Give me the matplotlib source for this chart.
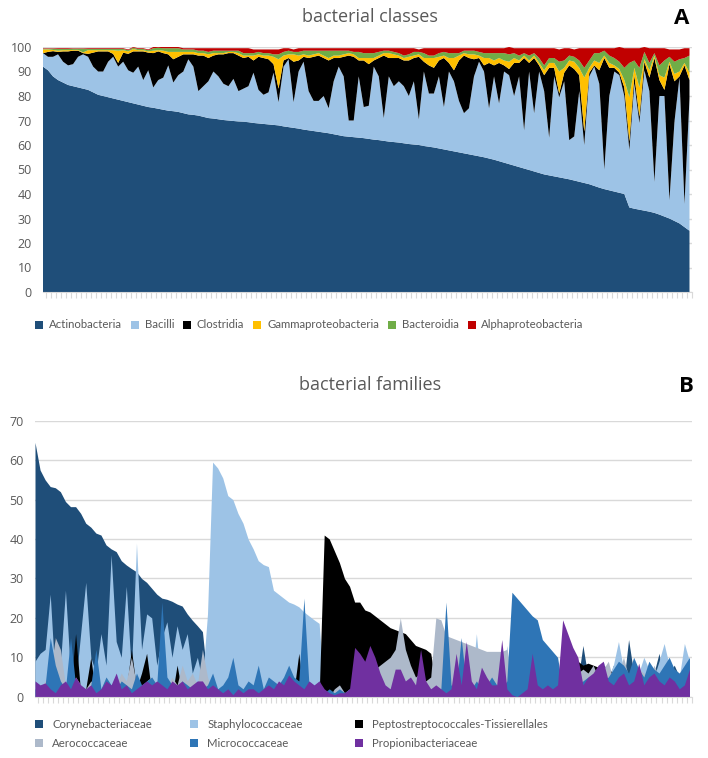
import numpy as np
import matplotlib
matplotlib.use("Agg")
import matplotlib.pyplot as plt
from matplotlib.patches import Patch

plt.rcParams["font.family"] = ["Open Sans", "DejaVu Sans"]
LEG_FONT = {"family": ["Lato", "DejaVu Sans"], "size": 8.2}

# ---- panel A: bacterial classes (relative abundance, %) ----
CLASSES = ["Actinobacteria", "Bacilli", "Clostridia", "Gammaproteobacteria",
           "Bacteroidia", "Alphaproteobacteria"]
CLASS_COLORS = ["#1f4e79", "#9dc3e6", "#000000", "#ffc000", "#70ad47", "#c00000"]

actino = [92, 90.5, 88, 86.5, 85.5, 84.5, 84, 83.5, 83, 82.5,
          81.5, 80.5, 80, 79.5, 79, 78.5, 78, 77.5, 77, 76.5,
          76, 75.5, 75.2, 74.8, 74.4, 74, 73.8, 73.5, 73, 72.5,
          72.3, 72, 71.5, 71, 70.8, 70.5, 70.2, 70, 69.8, 69.6,
          69.5, 69.3, 69, 68.8, 68.6, 68.4, 68.2, 68, 67.6, 67.3,
          67, 66.7, 66.3, 66, 65.7, 65.4, 65.1, 64.8, 64.4, 64,
          63.6, 63.4, 63.2, 63, 62.8, 62.5, 62.2, 62, 61.7, 61.4,
          61.2, 61, 60.7, 60.4, 60.2, 60, 59.6, 59.3, 59, 58.6,
          58.2, 57.8, 57.4, 57, 56.6, 56.2, 55.8, 55.4, 55, 54.5,
          54, 53.4, 52.8, 52.2, 51.6, 51, 50.4, 49.8, 49.2, 48.6,
          48, 47.6, 47.2, 46.8, 46.4, 46, 45.5, 45, 44.5, 44,
          43.3, 42.6, 42, 41.5, 41, 40.5, 40, 34.5, 34, 33.6,
          33.2, 32.8, 32.3, 31.6, 30.8, 30, 29, 28, 26.5, 25]
bacilli = [5.5, 5.5, 8, 10.5, 8.5, 8, 9, 12.5, 14, 13.5,
           10.5, 9.5, 10, 14.5, 17, 13.5, 16, 13, 12.5, 15.5,
           10.5, 15, 8.3, 11.7, 13.1, 18.5, 11.7, 15, 17, 22.5,
           19.7, 10, 12.5, 15, 19.2, 17.5, 14.8, 14, 17.2, 12.4,
           13.5, 14.7, 20.5, 13.7, 11.9, 13.1, 21.3, 9.5, 24.4, 27.7,
           10.5, 23.3, 27.7, 16, 12.3, 12.6, 14.9, 10.2, 21.6, 28,
           24.4, 6.6, 6.8, 25, 12.7, 13.5, 29.8, 26, 9.3, 26.6,
           22.8, 25, 23.3, 19.6, 25.8, 10.5, 30.4, 21.7, 22, 29.4,
           17.3, 32.2, 28.6, 21, 16.4, 18.8, 32.2, 38.6, 35, 20.5,
           34, 23.6, 37.2, 36.3, 28.4, 37, 15.6, 40.2, 23.8, 41.4,
           34, 15.4, 40.8, 32.7, 39.6, 16, 18, 37, 15.5, 44,
           48.7, 42.4, 8, 38.5, 49, 48, 40, 23.5, 51, 35.4,
           57.3, 49.2, 12.7, 48.4, 49.2, 7.5, 40.5, 59.5, 9.5, 54]
clostridia = [0, 2, 2.3, 1, 4.2, 5.7, 5.5, 2.5, 0.5, 1.2,
              5.7, 8.2, 8.2, 4.2, 1.2, 1.5, 3.7, 6.7, 8.7, 6.2,
              11.7, 7.2, 14, 11.7, 10, 4.5, 9.5, 7.5, 7, 2,
              5, 14.5, 12.5, 9.5, 6.5, 9, 12, 13.5, 10.5, 14.5,
              12.5, 12, 5, 13.5, 15, 13.5, 3.5, 5.5, 2.5, 0.5,
              16.5, 4.5, 2, 13.5, 18, 18.5, 15.5, 19.5, 9.5, 3.5,
              8, 26.5, 26, 6.5, 19, 17, 2.5, 7.5, 25.5, 7.5,
              11.5, 9.5, 10.5, 14.5, 9.5, 25.5, 4, 11.5, 10.5, 6.5,
              20, 3.5, 4.5, 16.5, 23.5, 20.5, 7, 1.5, 2.5, 18.5,
              4.5, 16.5, 2.5, 2.5, 13.5, 5.5, 29.5, 3.5, 22.5, 2.5,
              6.5, 28.5, 3.5, 1.5, 3.5, 30.5, 27.5, 6.5, 5.5, 1.5,
              0.5, 5.5, 45.5, 11.5, 1.5, 1, 3.5, 3.5, 3.5, 2.5,
              3.5, 5.5, 50.5, 6.5, 2.5, 55.5, 16.5, 0.5, 56.5, 7.5]
gamma = [1.5, 1, 0.5, 0.5, 0.5, 0.5, 0.3, 0.3, 0.3, 1.5,
         1, 0.5, 0.5, 0.5, 1.5, 5, 1, 1, 1, 0.5,
         0.5, 0.5, 1, 0.5, 1, 1, 3, 2, 1, 1,
         1, 1, 1, 1.5, 1, 0.5, 0.5, 0.5, 0.5, 1,
         1, 0.5, 2, 1, 1, 1.5, 3, 12, 2, 1.5,
         3, 2, 1, 1, 1, 1, 1, 1, 1, 1,
         1, 1, 1, 1, 1, 2.5, 1, 1, 1, 2,
         1.5, 1, 1, 1.5, 1, 1, 1.5, 3, 4, 1.5,
         1, 2, 5, 2, 1, 1.5, 2, 1, 3, 2,
         2, 2, 2, 3, 2, 1, 1, 1, 1, 1,
         2, 2, 2, 9, 2, 2, 3, 3, 22, 2,
         2, 3, 1, 2, 1, 1.5, 3, 18, 3, 12,
         1, 3, 1, 2, 5, 1, 3, 2, 1, 3]
bacteroidia = [0.3, 0.3, 0.5, 0.7, 0.5, 0.5, 0.5, 0.5, 1.5, 0.5,
               0.5, 0.5, 0.5, 0.5, 0.5, 0.7, 0.5, 0.5, 0.5, 0.5,
               0.5, 0.5, 1, 1, 1, 1.5, 1.5, 1.5, 1, 1,
               1, 1, 1, 1, 1, 1, 1, 0.5, 0.5, 1,
               1, 1, 1, 1, 1, 1, 1, 2, 1.5, 1.5,
               1, 1.5, 1.5, 2, 1.5, 1, 2, 3, 2, 2,
               1.5, 1, 1, 2.5, 2, 2, 2, 1.5, 1, 1,
               1, 1, 1, 1, 1.5, 1, 2, 1, 1, 1.5,
               1.5, 2, 2, 1, 1, 1.5, 1.5, 1.5, 2, 2,
               3, 2, 3, 3, 2, 2, 1, 2, 1, 2,
               2, 2, 2, 4, 3, 2, 2, 3, 4, 3,
               3, 4, 2, 3, 3, 3, 5, 14, 3, 8,
               3, 3, 1, 4, 7, 2, 5, 5, 2, 7]
alpha = [0.2, 0.2, 0.2, 0.3, 0.3, 0.3, 0.2, 0.2, 0.2, 0.3,
         0.3, 0.3, 0.3, 0.3, 0.3, 0.3, 0.3, 0.3, 0.3, 0.3,
         0.3, 0.3, 0.5, 0.3, 0.5, 0.5, 0.5, 0.5, 0.5, 0.5,
         0.5, 1, 1, 1.5, 1, 1, 1, 1, 1, 1,
         2, 2, 1.5, 1, 1.5, 1.5, 2, 2, 1.5, 1,
         1, 1.5, 1, 1, 1, 1, 1, 1, 1, 1,
         1, 1, 1.5, 1.5, 2, 2, 2, 1.5, 1, 1,
         1.5, 2, 3, 2.5, 1.5, 1, 2, 3, 3, 2,
         1.5, 2, 2, 2, 1, 1, 1, 1.5, 2, 2,
         2, 2, 2, 3, 2, 3, 2, 3, 2, 4,
         7, 4, 4, 5, 5, 3, 3, 5, 8, 5,
         2, 2, 1, 3, 4, 6, 8, 6, 5, 8,
         2, 6, 2, 7, 5, 3, 5, 4, 4, 3]

# ---- panel B: bacterial families (%), drawn overlapping ----
FAMILIES = ["Corynebacteriaceae", "Staphylococcaceae",
            "Peptostreptococcales-Tissierellales", "Aerococcaceae",
            "Micrococcaceae", "Propionibacteriaceae"]
FAMILY_COLORS = ["#1f4e79", "#9dc3e6", "#000000", "#adb9ca", "#2e75b6", "#7030a0"]

coryne = [64.5, 57.5, 55, 53.3, 53, 52, 49.5, 48.2, 48.2, 46.5,
          44, 43, 41.5, 41, 38.5, 37.5, 36.8, 34.5, 33.4, 32.5,
          31.7, 30, 29, 27.5, 26, 25, 24.7, 24.2, 23.5, 23,
          21, 19.4, 18, 16.5, 4, 2, 3, 2, 1, 2,
          3, 2, 1, 2, 2, 3, 1, 2, 1, 2,
          3, 2, 1, 2, 1, 2, 1, 2, 1, 2,
          1, 2, 1, 2, 1, 2, 3, 2, 1, 2,
          1, 2, 3, 2, 1, 2, 1, 2, 1, 2,
          3, 2, 1, 2, 1, 2, 1, 3, 2, 1,
          2, 1, 2, 1, 2, 1, 2, 1, 2, 1,
          2, 1, 2, 1, 2, 1, 2, 4, 13, 5,
          3, 7, 6, 4, 8, 5, 3, 14.5, 6, 4,
          5, 7, 6, 11, 4, 6, 8, 5, 9, 6]
staph = [9, 11, 12, 26, 4, 8, 27, 6, 3, 16,
         29, 10, 6, 16, 8, 36, 14, 10, 28, 6,
         39, 12, 21, 20, 8, 15, 19, 10, 18, 12,
         16, 6, 10, 4, 21, 59.5, 58, 55.5, 51, 50,
         46.5, 44, 40, 37.5, 34.5, 33.5, 33, 27, 26, 25,
         24, 23.5, 22.8, 21.5, 20.5, 19.5, 18.6, 2, 1, 2,
         1, 2, 1, 0.5, 1, 2, 1, 2, 1, 2,
         1, 2, 3, 2, 1, 2, 1, 2, 1, 2,
         1, 2, 2, 3, 2, 2, 2, 16, 2, 3,
         2, 3, 3, 13, 2, 1, 2, 1, 2, 1,
         2, 1, 2, 1, 2, 1, 2, 3, 6, 8,
         4, 6, 9, 5, 8, 14, 7, 5, 8, 6,
         10, 7, 5, 9, 13.5, 8, 6, 5, 13.5, 9]
pepto = [0, 1, 2, 3, 15, 3, 1, 2, 16, 1,
         2, 10, 0, 1, 0, 1, 0, 1, 2, 12,
         2, 6, 11, 1, 0, 1, 2, 0, 8, 1,
         1, 0, 1, 0, 0, 0, 1, 0, 0, 1,
         0, 1, 0, 0, 1, 0, 0, 1, 0, 0,
         0, 1, 11, 0, 1, 0, 0, 41, 40, 37,
         34, 30, 28, 24, 24, 22, 21.5, 20.5, 19.5, 18.5,
         17.5, 17, 16.5, 16, 14.5, 13, 12.5, 12, 11, 3,
         1, 0, 0, 1, 0, 0, 1, 0, 0, 0,
         0, 0, 0, 1, 0, 0, 0, 0, 0, 0,
         0, 0, 0, 0, 0, 1, 2, 9, 8, 8.5,
         8, 7.5, 8, 7, 6, 5, 6, 4, 3, 2,
         1, 3, 2, 1, 4, 2, 1, 3, 2, 1]
aero = [3, 2, 4, 6, 15, 12, 3, 2, 5, 3,
        2, 4, 3, 2, 5, 2, 3, 6, 4, 10,
        3, 2, 4, 5, 3, 6, 2, 5, 3, 8,
        4, 6, 3, 12, 5, 1, 0, 1, 0, 2,
        1, 0, 1, 2, 0, 1, 5, 1, 0, 1,
        0, 1, 0, 1, 0, 1, 0, 1, 0, 2,
        3, 1, 2, 1, 3, 4, 9, 7, 8, 9,
        10, 12, 20, 12, 8, 5, 6, 4, 5, 20,
        19.5, 15.5, 15, 14.5, 14, 13.5, 13, 12.5, 12, 11.5,
        11.5, 11.5, 11.5, 12, 3, 2, 1, 2, 1, 0,
        1, 0, 1, 2, 3, 2, 1, 6, 7, 6,
        8, 5, 7, 9, 4, 6, 10, 5, 3, 7,
        6, 4, 8, 5, 6, 4, 7, 5, 6, 3]
micro = [2, 1, 3, 15, 8, 4, 2, 15, 3, 2,
         1, 3, 12, 2, 5, 3, 2, 4, 3, 2,
         6, 3, 4, 5, 3, 24, 5, 3, 2, 4,
         3, 2, 1, 2, 3, 6, 2, 3, 5, 10,
         3, 2, 4, 3, 8, 2, 5, 4, 3, 5,
         8, 5, 4, 25, 3, 2, 4, 1, 2, 1,
         2, 1, 2, 1, 2, 1, 2, 1, 2, 1,
         2, 1, 2, 1, 2, 1, 2, 1, 2, 1,
         2, 24, 3, 2, 15, 3, 2, 4, 2, 3,
         5, 3, 2, 4, 26.5, 25, 23.5, 22, 20.5, 19.5,
         14.5, 13, 11.5, 10, 2, 1, 2, 3, 4, 5,
         3, 6, 4, 5, 7, 9, 8, 6, 10, 7,
         5, 9, 7, 6, 8, 10, 7, 6, 8, 10]
propioni = [4, 3, 3.5, 2, 1, 3, 4, 2, 5, 3,
            2, 3, 1, 2, 4, 3, 6, 2, 3, 1,
            2, 3, 4, 3, 4, 3, 2, 4, 3, 4,
            2, 3, 4, 4, 2, 3, 2, 1, 2, 0.5,
            2, 1, 2, 2, 1, 2, 3, 2, 4, 3,
            5.5, 4, 3, 2, 4, 3, 4, 2, 1, 0.5,
            1, 1, 2, 12.5, 11, 9, 13, 10, 6, 3,
            2, 7, 7, 4, 5, 3, 12, 4, 2, 3,
            2, 1, 2, 11, 3, 14, 4, 2, 7.5, 5,
            3, 3, 14.5, 2, 0.5, 0, 1, 2, 11, 3,
            2, 3, 2, 3, 19.5, 16, 12.5, 10, 3, 5,
            6, 8, 9, 4, 3, 5, 6, 3, 4, 8.5,
            3, 5, 6, 4, 3, 5, 4, 2, 3, 7]

TXT = "#595959"
GRID = "#d9d9d9"

fig = plt.figure(figsize=(7.08, 7.58), dpi=100)


def style_axis(ax, n, ymax, step):
    ax.set_xlim(0, n - 1)
    ax.set_ylim(0, ymax)
    ax.set_yticks(np.arange(0, ymax + 1, step))
    ax.yaxis.grid(True, color=GRID, linewidth=1)
    ax.set_axisbelow(True)
    for s in ["top", "right", "left"]:
        ax.spines[s].set_visible(False)
    ax.spines["bottom"].set_color(GRID)
    ax.tick_params(axis="y", length=0, labelsize=9, labelcolor=TXT, pad=8)
    ax.set_xticks(np.arange(n) + 0.5)
    ax.set_xticklabels([])
    ax.tick_params(axis="x", length=4, color=GRID, width=0.8)


# panel A
axA = fig.add_axes([43 / 708, 1 - 292 / 758, 649 / 708, 245 / 758])
xa = np.arange(len(actino))
axA.stackplot(xa, actino, bacilli, clostridia, gamma, bacteroidia, alpha,
              colors=CLASS_COLORS, linewidth=0)
style_axis(axA, len(actino), 100, 10)
fig.text(370 / 708, 1 - 17 / 758, "bacterial classes", ha="center", va="center",
         fontsize=13, color=TXT)
fig.text(682 / 708, 1 - 18 / 758, "A", ha="center", va="center",
         fontsize=16, fontweight="bold", color="black")
handlesA = [Patch(facecolor=c, edgecolor="none", label=l)
            for c, l in zip(CLASS_COLORS, CLASSES)]
fig.legend(handles=handlesA, loc="center left", ncol=6, frameon=False,
           bbox_to_anchor=(25 / 708, 1 - 325 / 758), prop=LEG_FONT,
           labelcolor=TXT, handlelength=0.7, handleheight=0.7,
           handletextpad=0.5, columnspacing=0.8)

# panel B
axB = fig.add_axes([35 / 708, 1 - 696.7 / 758, 657 / 708, 276 / 758])
xb = np.arange(len(coryne))
for vals, col in zip([coryne, staph, pepto, aero, micro, propioni], FAMILY_COLORS):
    axB.fill_between(xb, 0, vals, color=col, linewidth=0)
style_axis(axB, len(coryne), 70, 10)
fig.text(370 / 708, 1 - 385 / 758, "bacterial families", ha="center", va="center",
         fontsize=13, color=TXT)
fig.text(686 / 708, 1 - 386 / 758, "B", ha="center", va="center",
         fontsize=16, fontweight="bold", color="black")
handlesB = [Patch(facecolor=c, edgecolor="none", label=l)
            for c, l in zip(FAMILY_COLORS, FAMILIES)]
# one legend per column, rows: top family / bottom family
for col, x_px in enumerate([25, 180, 345]):
    fig.legend(handles=[handlesB[col], handlesB[col + 3]], loc="center left",
               frameon=False, bbox_to_anchor=(x_px / 708, 1 - 734 / 758),
               prop=LEG_FONT, labelcolor=TXT, handlelength=0.7,
               handleheight=0.7, handletextpad=0.8, labelspacing=0.75)

fig.savefig("out.png", dpi=100)
